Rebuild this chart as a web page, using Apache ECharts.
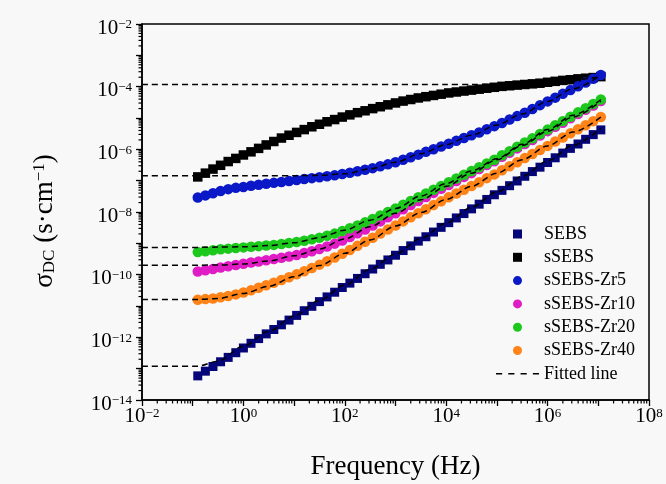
<!DOCTYPE html>
<html>
<head>
<meta charset="utf-8">
<title>DC conductivity vs frequency</title>
<script src="https://cdn.jsdelivr.net/npm/echarts@6.0.0/dist/echarts.min.js"></script>
<style>
  html, body { margin: 0; padding: 0; background: #f8f8f8; }
  #chart { width: 666px; height: 484px; }
</style>
</head>
<body>
<div id="chart"></div>
<script>
// all values are log10: frequency in Hz, conductivity in S/cm
var logFreq = [-0.90,-0.75,-0.60,-0.45,-0.30,-0.15,0.00,0.15,0.30,0.45,
  0.60,0.75,0.90,1.05,1.20,1.35,1.50,1.65,1.80,1.95,
  2.10,2.25,2.40,2.55,2.70,2.85,3.00,3.15,3.30,3.45,
  3.60,3.75,3.90,4.05,4.20,4.35,4.50,4.65,4.80,4.95,
  5.10,5.25,5.40,5.55,5.70,5.85,6.00,6.15,6.30,6.45,
  6.60,6.75,6.90,7.05];

var sebs = [-13.23,-13.08,-12.93,-12.78,-12.64,-12.49,-12.34,-12.19,-12.04,-11.89,
  -11.75,-11.60,-11.45,-11.30,-11.15,-11.01,-10.86,-10.71,-10.56,-10.41,
  -10.27,-10.12,-9.97,-9.82,-9.67,-9.53,-9.38,-9.23,-9.08,-8.93,
  -8.79,-8.64,-8.49,-8.34,-8.19,-8.05,-7.90,-7.75,-7.60,-7.45,
  -7.31,-7.16,-7.01,-6.86,-6.71,-6.57,-6.42,-6.27,-6.12,-5.97,
  -5.83,-5.68,-5.53,-5.38];
var ssebs = [-6.88,-6.76,-6.63,-6.51,-6.39,-6.29,-6.18,-6.08,-5.97,-5.86,
  -5.75,-5.64,-5.55,-5.46,-5.37,-5.28,-5.20,-5.12,-5.05,-4.97,
  -4.90,-4.83,-4.77,-4.70,-4.64,-4.58,-4.52,-4.46,-4.41,-4.36,
  -4.32,-4.28,-4.24,-4.20,-4.17,-4.14,-4.11,-4.08,-4.05,-4.02,
  -3.99,-3.97,-3.95,-3.93,-3.91,-3.89,-3.86,-3.83,-3.80,-3.78,
  -3.75,-3.73,-3.71,-3.68];
var zr5 = [-7.54,-7.47,-7.40,-7.33,-7.27,-7.23,-7.20,-7.16,-7.13,-7.10,
  -7.07,-7.04,-7.01,-6.98,-6.95,-6.92,-6.89,-6.86,-6.83,-6.79,
  -6.75,-6.70,-6.65,-6.60,-6.54,-6.48,-6.41,-6.33,-6.25,-6.17,
  -6.08,-6.00,-5.91,-5.82,-5.73,-5.64,-5.55,-5.46,-5.36,-5.26,
  -5.16,-5.05,-4.94,-4.83,-4.71,-4.59,-4.47,-4.35,-4.23,-4.11,
  -3.99,-3.87,-3.75,-3.63];
var zr10 = [-9.90,-9.86,-9.82,-9.77,-9.73,-9.69,-9.65,-9.61,-9.58,-9.54,
  -9.50,-9.46,-9.42,-9.37,-9.31,-9.25,-9.18,-9.10,-9.01,-8.91,
  -8.80,-8.68,-8.56,-8.43,-8.30,-8.17,-8.04,-7.91,-7.78,-7.65,
  -7.52,-7.39,-7.26,-7.14,-7.01,-6.88,-6.76,-6.63,-6.50,-6.38,
  -6.24,-6.11,-5.97,-5.83,-5.70,-5.56,-5.42,-5.28,-5.15,-5.01,
  -4.87,-4.74,-4.60,-4.46];
var zr20 = [-9.28,-9.25,-9.22,-9.19,-9.17,-9.15,-9.13,-9.11,-9.09,-9.07,
  -9.05,-9.02,-8.99,-8.96,-8.92,-8.87,-8.82,-8.76,-8.69,-8.61,
  -8.52,-8.43,-8.33,-8.22,-8.11,-8.00,-7.89,-7.77,-7.65,-7.53,
  -7.41,-7.29,-7.17,-7.05,-6.93,-6.81,-6.69,-6.57,-6.45,-6.33,
  -6.19,-6.06,-5.92,-5.78,-5.65,-5.51,-5.37,-5.23,-5.10,-4.96,
  -4.82,-4.69,-4.55,-4.41];
var zr40 = [-10.80,-10.78,-10.76,-10.72,-10.68,-10.63,-10.57,-10.50,-10.42,-10.34,
  -10.26,-10.17,-10.08,-9.99,-9.89,-9.79,-9.68,-9.57,-9.45,-9.33,
  -9.21,-9.08,-8.95,-8.82,-8.69,-8.56,-8.43,-8.30,-8.17,-8.04,
  -7.91,-7.78,-7.66,-7.53,-7.41,-7.29,-7.17,-7.05,-6.92,-6.80,
  -6.67,-6.54,-6.41,-6.28,-6.15,-6.02,-5.89,-5.75,-5.62,-5.49,
  -5.36,-5.23,-5.10,-4.97];

// fitted lines (dashed), same log units
var fitFreq   = [-2, -0.9, -0.5, 0, 0.5, 1, 1.5, 2, 2.5, 3, 3.5, 4, 4.5, 5, 5.5, 6, 6.5, 7.05];
var fitSEBS   = [-12.92,-12.92,-12.76,-12.28,-11.81,-11.32,-10.82,-10.33,-9.83,-9.34,-8.84,-8.35,-7.85,-7.36,-6.86,-6.37,-5.87,-5.33];
var fitSSEBS  = [-3.93,-3.93,-3.93,-3.93,-3.93,-3.93,-3.93,-3.93,-3.93,-3.93,-3.93,-3.93,-3.93,-3.93,-3.93,-3.87,-3.78,-3.68];
var fitZr5    = [-6.84,-6.84,-6.84,-6.84,-6.84,-6.84,-6.83,-6.78,-6.62,-6.41,-6.14,-5.85,-5.55,-5.22,-4.87,-4.47,-4.07,-3.63];
var fitZr10   = [-9.70,-9.70,-9.69,-9.66,-9.56,-9.40,-9.18,-8.86,-8.47,-8.04,-7.61,-7.18,-6.76,-6.33,-5.88,-5.42,-4.97,-4.46];
var fitZr20   = [-9.13,-9.13,-9.12,-9.11,-9.07,-8.98,-8.82,-8.58,-8.26,-7.89,-7.49,-7.09,-6.69,-6.30,-5.84,-5.37,-4.91,-4.41];
var fitZr40   = [-10.79,-10.79,-10.76,-10.60,-10.37,-10.07,-9.71,-9.32,-8.89,-8.45,-8.02,-7.60,-7.18,-6.76,-6.33,-5.89,-5.45,-4.97];

// labelled decades
var xTicks = [-2, 0, 2, 4, 6, 8];
var yTicks = [-14, -12, -10, -8, -6, -4, -2];

var serif = 'Liberation Serif, Times New Roman, serif';
var squareIcon = 'path://M0,0h8v8h-8z';

function pairs(xs, ys) {
  return xs.map(function (x, i) { return [x, ys[i]]; });
}

function powLabel(list) {
  return function (v) {
    if (list.indexOf(v) < 0) return '';
    return '{b|10}{s|' + (v < 0 ? '\u2212' : '') + Math.abs(v) + '}';
  };
}

var labelRich = {
  b: { fontSize: 21, lineHeight: 21, padding: [8, 0, 0, 0], fontFamily: serif, color: '#000' },
  s: { fontSize: 13, lineHeight: 13, padding: [5, 0, 0, 0], verticalAlign: 'top', fontFamily: serif, color: '#000' }
};

// log-spaced minor ticks (2..9 in each decade)
var xMinor = [], yMinor = [];
for (var d = -2; d < 8; d++) {
  for (var m = 2; m <= 9; m++) xMinor.push([d + Math.log10(m), -14]);
}
for (var e = -14; e < -2; e++) {
  for (var n = 2; n <= 9; n++) yMinor.push([-2, e + Math.log10(n)]);
}

function scatter(name, data, color, symbol, size) {
  return {
    name: name, type: 'scatter', data: pairs(logFreq, data),
    symbol: symbol, symbolSize: size,
    itemStyle: { color: color, opacity: 1 }
  };
}

function fitLine(data) {
  return {
    name: 'Fitted line', type: 'line', data: pairs(fitFreq, data),
    symbol: 'none', smooth: 0.3, smoothMonotone: 'x',
    color: '#000',
    lineStyle: { color: '#000', width: 1.5, type: [6, 4] },
    z: 5
  };
}

var chart = echarts.init(document.getElementById('chart'));
chart.setOption({
  animation: false,
  backgroundColor: '#f8f8f8',
  grid: {
    left: 142, right: 17, top: 24, bottom: 84,
    containLabel: false, outerBoundsMode: 'none',
    show: true, borderColor: '#000', borderWidth: 1.5, backgroundColor: 'transparent'
  },
  xAxis: {
    type: 'value', min: -2, max: 8, interval: 1,
    axisLine: { show: true, onZero: false, lineStyle: { color: '#000', width: 1.5 } },
    axisTick: { show: true, inside: false, length: 6, lineStyle: { color: '#000', width: 1.3 } },
    splitLine: { show: false },
    axisLabel: { margin: 2, showMinLabel: true, showMaxLabel: true, hideOverlap: false,
      formatter: powLabel(xTicks), rich: labelRich }
  },
  yAxis: {
    type: 'value', min: -14, max: -2, interval: 1,
    axisLine: { show: true, onZero: false, lineStyle: { color: '#000', width: 1.5 } },
    axisTick: { show: true, inside: false, length: 6, lineStyle: { color: '#000', width: 1.3 } },
    splitLine: { show: false },
    axisLabel: { margin: 10, showMinLabel: true, showMaxLabel: true, hideOverlap: false,
      formatter: powLabel(yTicks), rich: labelRich }
  },
  legend: {
    orient: 'vertical', left: 491, top: 220,
    itemWidth: 43, itemHeight: 9, itemGap: 5.3,
    selectedMode: false, symbolKeepAspect: true,
    textStyle: { fontSize: 18, fontFamily: serif, color: '#000' },
    data: [
      { name: 'SEBS', icon: squareIcon },
      { name: 'sSEBS', icon: squareIcon },
      'sSEBS-Zr5', 'sSEBS-Zr10', 'sSEBS-Zr20', 'sSEBS-Zr40',
      { name: 'Fitted line', icon: 'path://M0,0h6v1.5h-6zM12,0h6v1.5h-6zM24,0h6v1.5h-6zM36,0h6v1.5h-6z' }]
  },
  graphic: [
    { type: 'text', x: 395.5, y: 467, silent: true,
      style: { text: 'Frequency (Hz)', fontSize: 27, fontFamily: serif, fill: '#000',
        align: 'center', verticalAlign: 'middle' } },
    { type: 'text', x: 45, y: 221, rotation: Math.PI / 2, silent: true,
      style: {
        text: '{a|\u03c3}{d|DC}{a| (s\u00b7cm}{u|\u22121}{a|)}',
        align: 'center', verticalAlign: 'middle',
        rich: {
          a: { fontSize: 27, lineHeight: 27, fontFamily: serif, fill: '#000' },
          d: { fontSize: 17, lineHeight: 17, padding: [22, 0, 0, 0], verticalAlign: 'bottom', fontFamily: serif, fill: '#000' },
          u: { fontSize: 17, lineHeight: 17, verticalAlign: 'top', fontFamily: serif, fill: '#000' }
        }
      } }
  ],
  series: [
    scatter('SEBS', sebs, '#05057a', 'rect', 9),
    scatter('sSEBS', ssebs, '#000000', 'rect', 9.5),
    scatter('sSEBS-Zr5', zr5, '#0a18c8', 'circle', 10.5),
    scatter('sSEBS-Zr10', zr10, '#e01cc4', 'circle', 10.5),
    scatter('sSEBS-Zr20', zr20, '#1cc81c', 'circle', 10.5),
    scatter('sSEBS-Zr40', zr40, '#ff8316', 'circle', 10.5),
    fitLine(fitSEBS), fitLine(fitSSEBS), fitLine(fitZr5),
    fitLine(fitZr10), fitLine(fitZr20), fitLine(fitZr40),
    {
      type: 'custom', data: xMinor, clip: false, silent: true, z: 6,
      renderItem: function (params, api) {
        var p = api.coord([api.value(0), api.value(1)]);
        return { type: 'line', shape: { x1: p[0], y1: p[1], x2: p[0], y2: p[1] + 3.5 },
          style: { stroke: '#000', lineWidth: 1.2 } };
      }
    },
    {
      type: 'custom', data: yMinor, clip: false, silent: true, z: 6,
      renderItem: function (params, api) {
        var p = api.coord([api.value(0), api.value(1)]);
        return { type: 'line', shape: { x1: p[0] - 3.5, y1: p[1], x2: p[0], y2: p[1] },
          style: { stroke: '#000', lineWidth: 1.2 } };
      }
    }
  ]
});
</script>
</body>
</html>
